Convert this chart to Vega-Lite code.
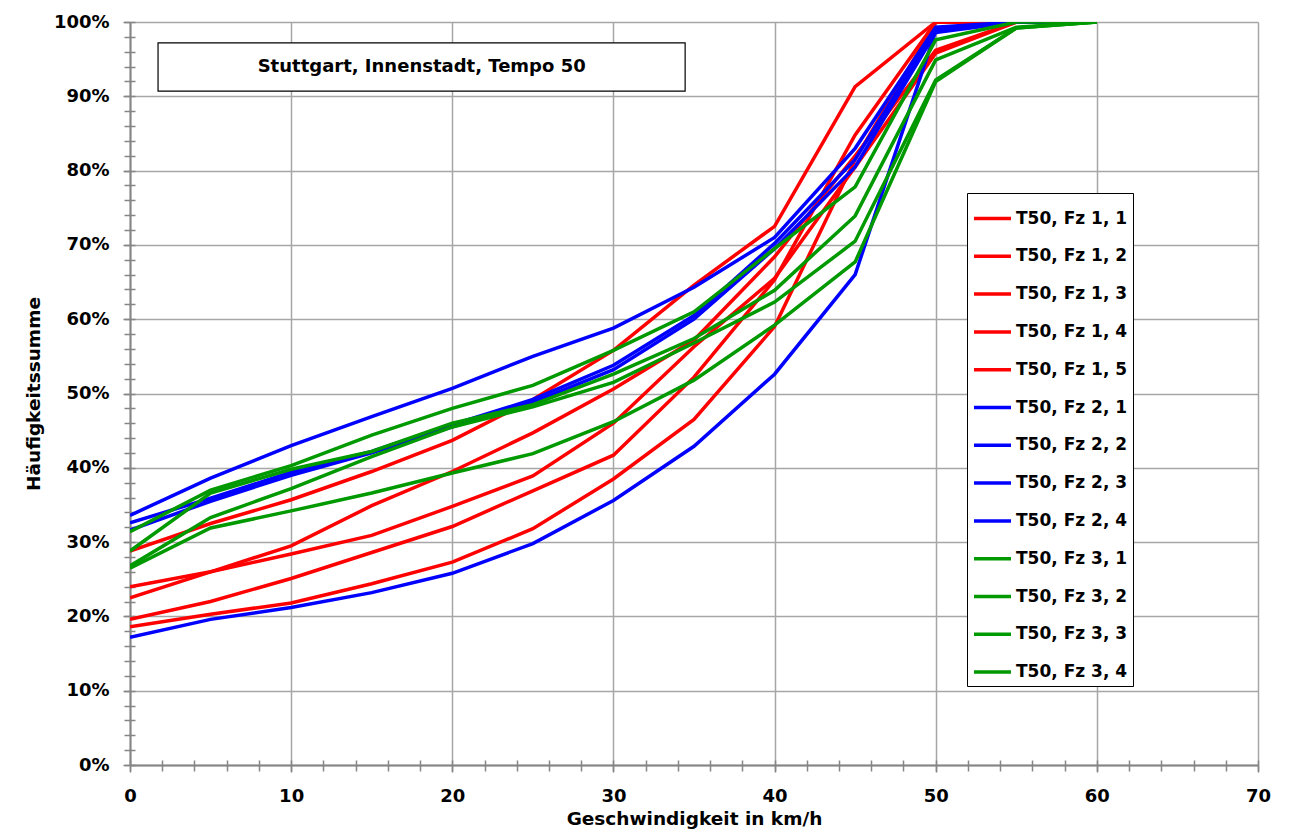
{
  "$schema": "https://vega.github.io/schema/vega-lite/v6.json",
  "width": 1128,
  "height": 743,
  "autosize": {"type": "none"},
  "padding": {"left": 130, "top": 22, "right": 32, "bottom": 69},
  "background": "white",
  "config": {
    "font": "DejaVu Sans",
    "view": {"stroke": null},
    "axis": {
      "labelFont": "DejaVu Sans",
      "labelFontWeight": "bold",
      "labelFontSize": 18,
      "labelColor": "#000000",
      "labelFlush": false,
      "titleFont": "DejaVu Sans",
      "titleFontWeight": "bold",
      "titleFontSize": 18.5,
      "titleColor": "#000000",
      "domainColor": "#868686",
      "domainWidth": 2,
      "tickColor": "#868686",
      "tickWidth": 1.5,
      "gridColor": "#a6a6a6",
      "gridWidth": 1.5,
      "gridOpacity": 1
    }
  },
  "data": {
    "values": [
      {"v": 0,  "T50, Fz 1, 1": 0.288, "T50, Fz 1, 2": 0.225, "T50, Fz 1, 3": 0.240, "T50, Fz 1, 4": 0.196, "T50, Fz 1, 5": 0.186, "T50, Fz 2, 1": 0.336, "T50, Fz 2, 2": 0.326, "T50, Fz 2, 3": 0.316, "T50, Fz 2, 4": 0.172, "T50, Fz 3, 1": 0.314, "T50, Fz 3, 2": 0.288, "T50, Fz 3, 3": 0.268, "T50, Fz 3, 4": 0.265},
      {"v": 5,  "T50, Fz 1, 1": 0.325, "T50, Fz 1, 2": 0.260, "T50, Fz 1, 3": 0.260, "T50, Fz 1, 4": 0.220, "T50, Fz 1, 5": 0.203, "T50, Fz 2, 1": 0.386, "T50, Fz 2, 2": 0.359, "T50, Fz 2, 3": 0.355, "T50, Fz 2, 4": 0.196, "T50, Fz 3, 1": 0.370, "T50, Fz 3, 2": 0.366, "T50, Fz 3, 3": 0.333, "T50, Fz 3, 4": 0.319},
      {"v": 10, "T50, Fz 1, 1": 0.357, "T50, Fz 1, 2": 0.295, "T50, Fz 1, 3": 0.284, "T50, Fz 1, 4": 0.251, "T50, Fz 1, 5": 0.218, "T50, Fz 2, 1": 0.430, "T50, Fz 2, 2": 0.394, "T50, Fz 2, 3": 0.390, "T50, Fz 2, 4": 0.212, "T50, Fz 3, 1": 0.403, "T50, Fz 3, 2": 0.398, "T50, Fz 3, 3": 0.372, "T50, Fz 3, 4": 0.342},
      {"v": 15, "T50, Fz 1, 1": 0.395, "T50, Fz 1, 2": 0.349, "T50, Fz 1, 3": 0.309, "T50, Fz 1, 4": 0.286, "T50, Fz 1, 5": 0.244, "T50, Fz 2, 1": 0.469, "T50, Fz 2, 2": 0.422, "T50, Fz 2, 3": 0.420, "T50, Fz 2, 4": 0.232, "T50, Fz 3, 1": 0.444, "T50, Fz 3, 2": 0.422, "T50, Fz 3, 3": 0.415, "T50, Fz 3, 4": 0.366},
      {"v": 20, "T50, Fz 1, 1": 0.437, "T50, Fz 1, 2": 0.395, "T50, Fz 1, 3": 0.348, "T50, Fz 1, 4": 0.321, "T50, Fz 1, 5": 0.273, "T50, Fz 2, 1": 0.507, "T50, Fz 2, 2": 0.458, "T50, Fz 2, 3": 0.455, "T50, Fz 2, 4": 0.258, "T50, Fz 3, 1": 0.480, "T50, Fz 3, 2": 0.460, "T50, Fz 3, 3": 0.455, "T50, Fz 3, 4": 0.393},
      {"v": 25, "T50, Fz 1, 1": 0.492, "T50, Fz 1, 2": 0.447, "T50, Fz 1, 3": 0.389, "T50, Fz 1, 4": 0.369, "T50, Fz 1, 5": 0.318, "T50, Fz 2, 1": 0.550, "T50, Fz 2, 2": 0.492, "T50, Fz 2, 3": 0.488, "T50, Fz 2, 4": 0.298, "T50, Fz 3, 1": 0.511, "T50, Fz 3, 2": 0.485, "T50, Fz 3, 3": 0.482, "T50, Fz 3, 4": 0.419},
      {"v": 30, "T50, Fz 1, 1": 0.558, "T50, Fz 1, 2": 0.506, "T50, Fz 1, 3": 0.460, "T50, Fz 1, 4": 0.417, "T50, Fz 1, 5": 0.385, "T50, Fz 2, 1": 0.588, "T50, Fz 2, 2": 0.538, "T50, Fz 2, 3": 0.532, "T50, Fz 2, 4": 0.356, "T50, Fz 3, 1": 0.558, "T50, Fz 3, 2": 0.526, "T50, Fz 3, 3": 0.515, "T50, Fz 3, 4": 0.462},
      {"v": 35, "T50, Fz 1, 1": 0.646, "T50, Fz 1, 2": 0.572, "T50, Fz 1, 3": 0.563, "T50, Fz 1, 4": 0.522, "T50, Fz 1, 5": 0.465, "T50, Fz 2, 1": 0.643, "T50, Fz 2, 2": 0.605, "T50, Fz 2, 3": 0.600, "T50, Fz 2, 4": 0.429, "T50, Fz 3, 1": 0.610, "T50, Fz 3, 2": 0.574, "T50, Fz 3, 3": 0.568, "T50, Fz 3, 4": 0.518},
      {"v": 40, "T50, Fz 1, 1": 0.725, "T50, Fz 1, 2": 0.684, "T50, Fz 1, 3": 0.655, "T50, Fz 1, 4": 0.653, "T50, Fz 1, 5": 0.590, "T50, Fz 2, 1": 0.710, "T50, Fz 2, 2": 0.702, "T50, Fz 2, 3": 0.695, "T50, Fz 2, 4": 0.526, "T50, Fz 3, 1": 0.695, "T50, Fz 3, 2": 0.639, "T50, Fz 3, 3": 0.623, "T50, Fz 3, 4": 0.592},
      {"v": 45, "T50, Fz 1, 1": 0.913, "T50, Fz 1, 2": 0.820, "T50, Fz 1, 3": 0.805, "T50, Fz 1, 4": 0.848, "T50, Fz 1, 5": 0.815, "T50, Fz 2, 1": 0.830, "T50, Fz 2, 2": 0.815, "T50, Fz 2, 3": 0.805, "T50, Fz 2, 4": 0.660, "T50, Fz 3, 1": 0.778, "T50, Fz 3, 2": 0.739, "T50, Fz 3, 3": 0.705, "T50, Fz 3, 4": 0.677},
      {"v": 50, "T50, Fz 1, 1": 1.000, "T50, Fz 1, 2": 0.962, "T50, Fz 1, 3": 0.958, "T50, Fz 1, 4": 1.000, "T50, Fz 1, 5": 1.000, "T50, Fz 2, 1": 0.993, "T50, Fz 2, 2": 0.990, "T50, Fz 2, 3": 0.986, "T50, Fz 2, 4": 0.988, "T50, Fz 3, 1": 0.976, "T50, Fz 3, 2": 0.949, "T50, Fz 3, 3": 0.922, "T50, Fz 3, 4": 0.920},
      {"v": 55, "T50, Fz 1, 1": 1.000, "T50, Fz 1, 2": 1.000, "T50, Fz 1, 3": 1.000, "T50, Fz 1, 4": 1.000, "T50, Fz 1, 5": 1.000, "T50, Fz 2, 1": 1.000, "T50, Fz 2, 2": 1.000, "T50, Fz 2, 3": 1.000, "T50, Fz 2, 4": 1.000, "T50, Fz 3, 1": 1.000, "T50, Fz 3, 2": 0.993, "T50, Fz 3, 3": 0.992, "T50, Fz 3, 4": 0.992},
      {"v": 60, "T50, Fz 1, 1": 1.000, "T50, Fz 1, 2": 1.000, "T50, Fz 1, 3": 1.000, "T50, Fz 1, 4": 1.000, "T50, Fz 1, 5": 1.000, "T50, Fz 2, 1": 1.000, "T50, Fz 2, 2": 1.000, "T50, Fz 2, 3": 1.000, "T50, Fz 2, 4": 1.000, "T50, Fz 3, 1": 1.000, "T50, Fz 3, 2": 1.000, "T50, Fz 3, 3": 1.000, "T50, Fz 3, 4": 1.000}
    ]
  },
  "transform": [
    {"fold": ["T50, Fz 1, 1", "T50, Fz 1, 2", "T50, Fz 1, 3", "T50, Fz 1, 4", "T50, Fz 1, 5", "T50, Fz 2, 1", "T50, Fz 2, 2", "T50, Fz 2, 3", "T50, Fz 2, 4", "T50, Fz 3, 1", "T50, Fz 3, 2", "T50, Fz 3, 3", "T50, Fz 3, 4"], "as": ["Serie", "p"]}
  ],
  "layer": [
    {
      "mark": {"type": "line", "strokeWidth": 3.5, "strokeJoin": "miter", "clip": true},
      "encoding": {
        "x": {
          "field": "v", "type": "quantitative",
          "scale": {"domain": [0, 70], "nice": false, "zero": false},
          "axis": {
            "values": [0, 10, 20, 30, 40, 50, 60, 70],
            "grid": true, "tickSize": 7, "labelPadding": 15,
            "title": "Geschwindigkeit in km/h",
            "titleY": 53, "titleBaseline": "middle"
          }
        },
        "y": {
          "field": "p", "type": "quantitative",
          "scale": {"domain": [0, 1], "nice": false},
          "axis": {
            "values": [0, 0.1, 0.2, 0.3, 0.4, 0.5, 0.6, 0.7, 0.8, 0.9, 1.0],
            "format": ".0%", "grid": true, "tickSize": 7, "labelPadding": 14,
            "title": "Häufigkeitssumme",
            "titleX": -97, "titleY": 371.5, "titleAngle": -90,
            "titleBaseline": "middle", "titleAlign": "center"
          }
        },
        "color": {
          "field": "Serie", "type": "nominal",
          "scale": {
            "domain": ["T50, Fz 1, 1", "T50, Fz 1, 2", "T50, Fz 1, 3", "T50, Fz 1, 4", "T50, Fz 1, 5", "T50, Fz 2, 1", "T50, Fz 2, 2", "T50, Fz 2, 3", "T50, Fz 2, 4", "T50, Fz 3, 1", "T50, Fz 3, 2", "T50, Fz 3, 3", "T50, Fz 3, 4"],
            "range": ["#ff0000", "#ff0000", "#ff0000", "#ff0000", "#ff0000", "#0000ff", "#0000ff", "#0000ff", "#0000ff", "#009900", "#009900", "#009900", "#009900"]
          },
          "legend": {
            "title": null,
            "orient": "none",
            "legendX": 837,
            "legendY": 171,
            "direction": "vertical",
            "symbolType": "stroke",
            "symbolSize": 1369,
            "symbolStrokeWidth": 3.5,
            "labelFont": "DejaVu Sans",
            "labelFontWeight": "bold",
            "labelFontSize": 17,
            "labelColor": "#000000",
            "labelOffset": 3,
            "rowPadding": 8.8,
            "padding": 5,
            "strokeColor": "#000000",
            "fillColor": "#ffffff",
            "labelLimit": 200
          }
        },
        "order": {"field": "v", "type": "quantitative"}
      }
    },
    {
      "mark": {"type": "point", "opacity": 0},
      "encoding": {
        "x": {
          "field": "v", "type": "quantitative",
          "axis": {
            "orient": "bottom",
            "values": [0, 2, 4, 6, 8, 10, 12, 14, 16, 18, 20, 22, 24, 26, 28, 30, 32, 34, 36, 38, 40, 42, 44, 46, 48, 50, 52, 54, 56, 58, 60, 62, 64, 66, 68, 70],
            "labels": false, "grid": false, "domain": false, "tickSize": 6, "title": null
          }
        },
        "y": {
          "field": "p", "type": "quantitative",
          "axis": {
            "orient": "left",
            "values": [0, 0.02, 0.04, 0.06, 0.08, 0.1, 0.12, 0.14, 0.16, 0.18, 0.2, 0.22, 0.24, 0.26, 0.28, 0.3, 0.32, 0.34, 0.36, 0.38, 0.4, 0.42, 0.44, 0.46, 0.48, 0.5, 0.52, 0.54, 0.56, 0.58, 0.6, 0.62, 0.64, 0.66, 0.68, 0.7, 0.72, 0.74, 0.76, 0.78, 0.8, 0.82, 0.84, 0.86, 0.88, 0.9, 0.92, 0.94, 0.96, 0.98, 1.0],
            "labels": false, "grid": false, "domain": false, "tickSize": 6, "title": null
          }
        }
      }
    },
    {
      "mark": {"type": "point", "opacity": 0},
      "encoding": {
        "x": {
          "field": "v", "type": "quantitative",
          "axis": {
            "orient": "bottom",
            "values": [0, 2, 4, 6, 8, 10, 12, 14, 16, 18, 20, 22, 24, 26, 28, 30, 32, 34, 36, 38, 40, 42, 44, 46, 48, 50, 52, 54, 56, 58, 60, 62, 64, 66, 68, 70],
            "labels": false, "grid": false, "domain": false, "tickSize": -5, "title": null
          }
        },
        "y": {
          "field": "p", "type": "quantitative",
          "axis": {
            "orient": "left",
            "values": [0, 0.02, 0.04, 0.06, 0.08, 0.1, 0.12, 0.14, 0.16, 0.18, 0.2, 0.22, 0.24, 0.26, 0.28, 0.3, 0.32, 0.34, 0.36, 0.38, 0.4, 0.42, 0.44, 0.46, 0.48, 0.5, 0.52, 0.54, 0.56, 0.58, 0.6, 0.62, 0.64, 0.66, 0.68, 0.7, 0.72, 0.74, 0.76, 0.78, 0.8, 0.82, 0.84, 0.86, 0.88, 0.9, 0.92, 0.94, 0.96, 0.98, 1.0],
            "labels": false, "grid": false, "domain": false, "tickSize": -5, "title": null
          }
        }
      }
    },
    {
      "data": {"values": [{"label": "Stuttgart, Innenstadt, Tempo 50"}]},
      "mark": {"type": "rect", "fill": "#ffffff", "stroke": "#000000", "strokeWidth": 1.2},
      "encoding": {
        "x": {"datum": 1.74, "type": "quantitative", "axis": null},
        "x2": {"datum": 34.45},
        "y": {"datum": 0.972, "type": "quantitative", "axis": null},
        "y2": {"datum": 0.907}
      }
    },
    {
      "data": {"values": [{"label": "Stuttgart, Innenstadt, Tempo 50"}]},
      "mark": {"type": "text", "font": "DejaVu Sans", "fontWeight": "bold", "fontSize": 18, "color": "#000000", "align": "center", "baseline": "middle"},
      "encoding": {
        "x": {"datum": 18.1, "type": "quantitative", "axis": null},
        "y": {"datum": 0.9395, "type": "quantitative", "axis": null},
        "text": {"field": "label"}
      }
    }
  ],
  "resolve": {"axis": {"x": "independent", "y": "independent"}}
}
